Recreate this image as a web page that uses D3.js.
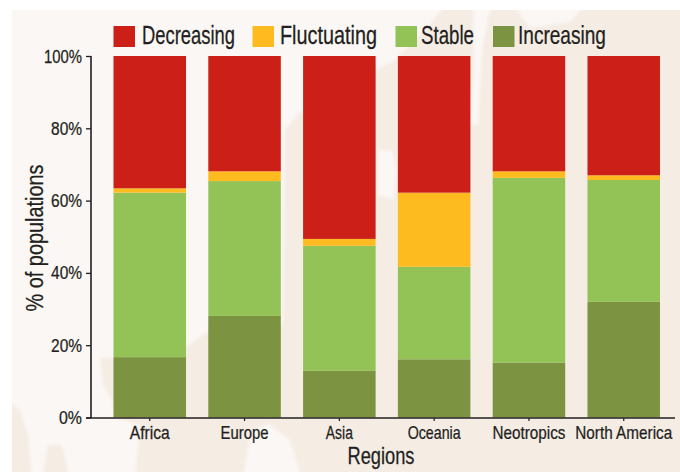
<!DOCTYPE html>
<html><head><meta charset="utf-8">
<script src="https://cdn.jsdelivr.net/npm/d3@7/dist/d3.min.js"></script>
<style>html,body{margin:0;padding:0;background:#fff}svg{display:block}text{font-family:"Liberation Sans",sans-serif;fill:#231f20;stroke:#231f20;stroke-width:.25px}</style>
</head><body><svg id="c" width="680" height="472"></svg>
<script>
const regions=["Africa","Europe","Asia","Oceania","Neotropics","North America"];
const increasing=[16.7,28.1,12.9,16.1,15.2,32.0];
const stable=[45.5,37.3,34.6,25.6,51.1,33.7];
const fluctuating=[1.2,2.7,1.9,20.5,1.8,1.3];
const decreasing=[36.6,31.9,50.6,37.8,31.9,33.0];
const yTicks=[0,20,40,60,80,100];
const seriesNames=["Increasing","Stable","Fluctuating","Decreasing"];
const legendOrder=["Decreasing","Fluctuating","Stable","Increasing"];
const colors={Decreasing:"#cc1f18",Fluctuating:"#fdbb1f",Stable:"#93c257",Increasing:"#7c9342"};

const svg=d3.select("#c");
const defs=svg.append("defs");
defs.append("filter").attr("id","soft").append("feGaussianBlur").attr("stdDeviation",1.6);
defs.append("clipPath").attr("id","panel").append("rect").attr("x",12).attr("y",10).attr("width",668).attr("height",462);
svg.append("rect").attr("x",12).attr("y",10).attr("width",668).attr("height",462).attr("fill","#f5ece4");
const land=[
 "M0,0L450,0L425,30L392,62L345,85L320,110L300,112L285,130L283,325L235,322L205,333L190,345L165,360L118,358L100,358L103,385L112,400L115,418L140,425L135,480L70,480L62,445L48,445L42,480L32,480L28,435L20,410L0,395Z",
 "M243,480L250,432L268,424L290,440L302,480Z",
 "M473,0L492,0L483,45L480,90L478,125L470,125L474,70Z",
 "M378,150L392,150L396,170L394,200L378,195Z",
 "M510,0L590,0L570,22L530,28Z"];
svg.append("g").attr("clip-path","url(#panel)").append("g").attr("filter","url(#soft)")
 .selectAll("path").data(land).join("path").attr("d",d=>d).attr("fill","#fbf7f4");

const x=d3.scaleBand().domain(regions).range([113.5,660]).paddingInner(0.235).paddingOuter(0);
const y=d3.scaleLinear().domain([0,100]).range([417.5,56]);

const rows=regions.map((r,i)=>({region:r,Increasing:increasing[i],Stable:stable[i],Fluctuating:fluctuating[i],Decreasing:decreasing[i]}));
const stack=d3.stack().keys(seriesNames)(rows);
svg.append("g").selectAll("g").data(stack).join("g").attr("fill",s=>colors[s.key])
 .selectAll("rect").data(s=>s).join("rect")
 .attr("x",d=>x(d.data.region)).attr("width",x.bandwidth())
 .attr("y",d=>y(d[1])).attr("height",d=>y(d[0])-y(d[1]));

// narrow a text horizontally to the width it has in the reference
function squeeze(node,w,prefix){
 const sx=w/node.getComputedTextLength();
 const px=+node.getAttribute("x")||0;
 node.setAttribute("x",px/sx);
 node.setAttribute("transform",(prefix||"")+` scale(${sx},1)`);
}

const ay=svg.append("g").attr("transform","translate(91,0)")
 .call(d3.axisLeft(y).tickValues(yTicks).tickFormat(d=>d+"%").tickSize(5).tickPadding(4));
ay.selectAll("path.domain").attr("d","M0,56V418").attr("stroke","#231f20").attr("stroke-width",1.6);
ay.selectAll("line").attr("stroke","#231f20").attr("stroke-width",1.3);
ay.selectAll("text").style("font-size","19px").each(function(d){squeeze(this,d===100?38:d===0?23:31);});

const xLabelWidths=[40,48,27,53,73,97];
const ax=svg.append("g").attr("transform","translate(0,418)")
 .call(d3.axisBottom(x).tickSize(3).tickPadding(5));
ax.selectAll("path.domain").attr("d","M86,0H675").attr("stroke","#231f20").attr("stroke-width",1.6);
ax.selectAll("line").attr("stroke","#231f20").attr("stroke-width",1.2);
ax.selectAll("text").style("font-size","18px").each(function(d,i){squeeze(this,xLabelWidths[i]);});

squeeze(svg.append("text").attr("x",381).attr("y",464).attr("text-anchor","middle").style("font-size","24px").text("Regions").node(),67);
squeeze(svg.append("text").attr("text-anchor","middle").style("font-size","24px").text("% of populations").node(),147,"translate(43,238) rotate(-90)");

const legendX=[113.5,252.5,395.5,493];
const legendTextX=[142,280,421,518];
const legendW=[93,97,53,88];
const leg=svg.append("g").selectAll("g").data(legendOrder).join("g").attr("transform",(d,i)=>`translate(${legendX[i]},26)`);
leg.append("rect").attr("width",21.5).attr("height",21).attr("fill",d=>colors[d]);
leg.append("text").attr("x",(d,i)=>legendTextX[i]-legendX[i]).attr("y",18).style("font-size","25px").text(d=>d)
 .each(function(d,i){squeeze(this,legendW[i]);});
</script></body></html>
